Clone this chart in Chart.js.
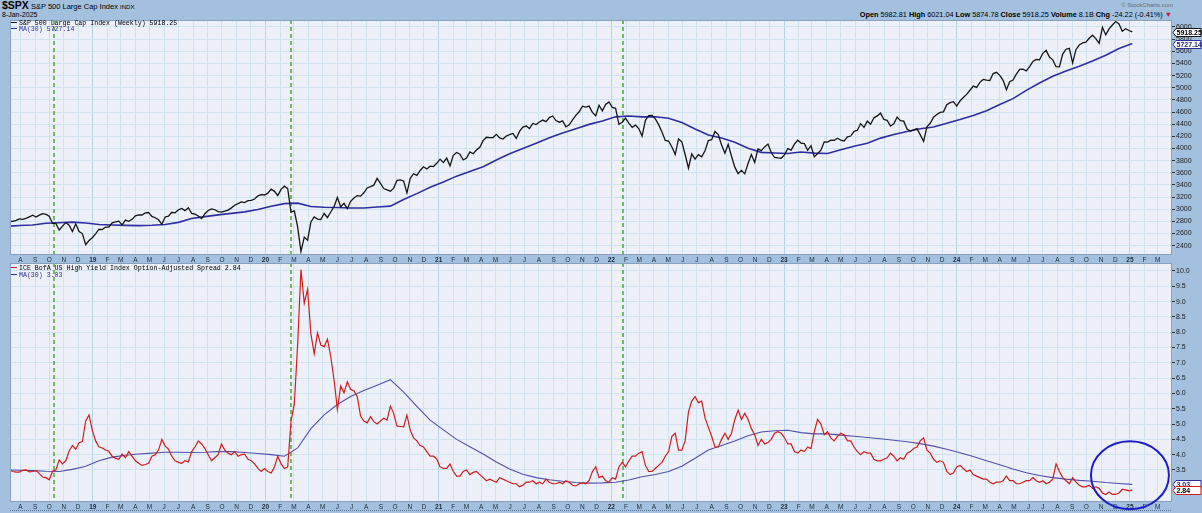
<!DOCTYPE html>
<html lang="en">
<head>
<meta charset="utf-8">
<title>$SPX and ICE BofA US High Yield OAS</title>
<script src="https://cdn.jsdelivr.net/npm/chart.js@4.4.1/dist/chart.umd.min.js"></script>
<style>
  html, body { margin: 0; padding: 0; background: #a3c1df; }
  #wrap { position: relative; width: 1202px; height: 513px; overflow: hidden; background: #a3c1df;
          font-family: "Liberation Sans", Arial, sans-serif; color: #000; }
  canvas { position: absolute; left: 0; }
  #spxChart { top: 20px; }
  #hyChart { top: 263px; }
  .txt { position: absolute; white-space: nowrap; }
  .leg { position: absolute; white-space: nowrap; font-family: "Liberation Mono", "DejaVu Sans Mono", monospace;
         font-size: 6.6px; line-height: 7px; }
  .leg i { display: inline-block; width: 6px; border-top: 1.5px solid; vertical-align: middle; margin: 0 2px 1px 0; }
</style>
</head>
<body>
<div id="wrap">
  <canvas id="spxChart" width="1202" height="243"></canvas>
  <canvas id="hyChart" width="1202" height="250"></canvas>

  <div class="txt" style="left:2px; top:0px; font-size:7.5px; line-height:11px;"><b style="font-size:10.5px;">$SPX</b> S&amp;P 500 Large Cap Index <span style="font-size:6px;">INDX</span></div>
  <div class="txt" style="left:2px; top:11px; font-size:7px; line-height:8px;">8-Jan-2025</div>
  <div class="txt" style="right:29px; top:2px; font-size:6px; line-height:7px; color:#6a6a6a;">© StockCharts.com</div>
  <div class="txt" style="right:30px; top:11px; font-size:7.3px; line-height:8px;"><b>Open</b> 5982.81 <b>High</b> 6021.04 <b>Low</b> 5874.78 <b>Close</b> 5918.25 <b>Volume</b> 8.1B <b>Chg</b> -24.22 (-0.41%) <span style="color:#c0143c;">▼</span></div>

  <div class="leg" style="left:11px; top:20px;"><i style="color:#111;"></i>S&amp;P 500 Large Cap Index (Weekly) 5918.25</div>
  <div class="leg" style="left:11px; top:26px; color:#2e2ea0;"><i></i>MA(30) 5727.14</div>
  <div class="leg" style="left:11px; top:265px;"><i style="color:#d01c1c;"></i>ICE BofA US High Yield Index Option-Adjusted Spread 2.84</div>
  <div class="leg" style="left:11px; top:272px; color:#2e2ea0;"><i></i>MA(30) 3.03</div>
</div>

<script>
// weekly closes, one list per year (first bar = week of 2 Jul 2018)
const spx2018 = [2759,2801,2802,2818,2840,2833,2850,2875,2901,2871,2904,2929,2914,2885,2767,2768,2658,2723,2781,2736,2633,2760,2633,2600,2417,2486];
const spx2019 = [2532,2596,2671,2665,2707,2708,2776,2793,2804,2743,2822,2801,2834,2893,2907,2905,2940,2946,2881,2860,2826,2752,2873,2887,2950,2942,2990,3014,2977,3026,2932,2919,2889,2847,2926,2979,3007,2992,2962,2952,2970,2986,3023,3067,3093,3120,3110,3141,3146,3169,3221,3240];
const spx2020 = [3235,3265,3330,3295,3226,3328,3380,3338,2954,2972,2711,2305,2541,2489,2790,2875,2837,2831,2930,2864,2955,3044,3194,3041,3098,3009,3130,3185,3225,3216,3271,3351,3373,3397,3508,3427,3341,3319,3298,3348,3477,3484,3465,3270,3510,3585,3558,3638,3699,3663,3709,3703];
const spx2021 = [3756,3825,3768,3841,3714,3887,3934,3907,3811,3842,3943,3913,3975,4020,4129,4185,4180,4181,4233,4174,4156,4204,4230,4247,4166,4281,4352,4370,4327,4412,4395,4437,4468,4442,4509,4535,4459,4433,4455,4357,4391,4471,4545,4605,4697,4682,4698,4595,4538,4712,4620,4726,4766];
const spx2022 = [4677,4662,4398,4432,4500,4418,4349,4385,4329,4204,4463,4543,4546,4488,4393,4272,4132,4123,4024,3901,4158,4109,3901,3675,3912,3825,3899,3863,3962,4130,4145,4280,4228,4058,3924,4067,3873,3693,3586,3640,3583,3752,3901,3771,3993,3965,4026,4072,3934,3852,3845,3840];
const spx2023 = [3895,3999,3973,4071,4136,4090,4079,3970,4046,3862,3917,3971,4109,4105,4138,4133,4169,4136,4124,4192,4205,4282,4299,4410,4348,4450,4399,4505,4536,4582,4478,4464,4370,4406,4516,4457,4450,4320,4288,4308,4327,4224,4117,4358,4415,4514,4559,4595,4604,4719,4755,4770];
const spx2024 = [4697,4784,4840,4891,4959,5027,5006,5089,5137,5124,5117,5234,5254,5204,5123,4967,5100,5128,5223,5303,5305,5278,5347,5432,5465,5460,5567,5615,5505,5459,5347,5344,5554,5634,5648,5408,5626,5703,5738,5751,5815,5865,5808,5729,5995,5870,5969,6032,6090,6051,5931,5971];
const spx2025 = [5942,5918.25];

const hy2018 = [3.55,3.50,3.45,3.43,3.43,3.49,3.50,3.44,3.45,3.48,3.38,3.27,3.25,3.18,3.46,3.50,3.83,3.70,3.80,4.12,4.30,4.18,4.39,4.43,5.10,5.30];
const hy2019 = [4.80,4.45,4.26,4.22,4.15,4.11,3.95,3.88,3.85,4.02,3.90,4.10,3.95,3.80,3.72,3.65,3.68,3.72,3.95,4.00,4.15,4.50,4.28,4.18,3.95,3.80,3.75,3.72,3.80,3.76,4.10,4.25,4.45,4.35,4.20,4.00,3.80,3.90,4.00,4.35,4.15,4.05,4.00,4.10,3.95,4.00,4.02,3.85,3.80,3.70,3.55,3.45];
const hy2020 = [3.55,3.45,3.40,3.60,3.95,3.70,3.55,3.60,5.10,5.65,7.60,10.05,8.95,9.40,7.95,7.30,7.98,7.58,7.53,7.77,7.20,6.44,5.48,6.24,6.02,6.38,6.13,6.09,5.89,5.26,5.10,5.04,5.24,5.08,5.00,5.10,5.19,5.13,5.59,5.35,4.93,4.92,4.91,5.29,4.80,4.55,4.45,4.30,4.25,4.10,3.95,3.95];
const hy2021 = [3.86,3.60,3.55,3.55,3.70,3.45,3.30,3.30,3.45,3.50,3.35,3.42,3.45,3.35,3.25,3.15,3.20,3.15,3.10,3.25,3.20,3.15,3.10,3.05,3.05,2.95,3.00,3.10,3.10,3.15,3.05,3.10,3.05,3.20,3.10,3.05,3.05,3.10,3.05,3.15,3.10,3.00,2.98,3.05,3.08,3.05,3.15,3.45,3.60,3.25,3.30,3.15,3.10];
const hy2022 = [3.25,3.20,3.60,3.75,3.60,3.80,3.95,3.95,4.05,4.10,3.65,3.45,3.45,3.55,3.65,3.75,3.95,4.10,4.60,4.70,4.15,4.15,4.45,5.40,5.75,5.90,5.70,5.75,5.20,4.90,4.60,4.25,4.25,4.50,4.70,4.50,4.70,5.15,5.45,5.15,5.35,5.15,4.85,4.65,4.30,4.50,4.35,4.40,4.50,4.70,4.75,4.70];
const hy2023 = [4.55,4.35,4.35,4.10,4.05,4.15,4.10,4.25,4.20,4.75,5.15,5.00,4.65,4.75,4.55,4.45,4.60,4.70,4.65,4.45,4.45,4.25,4.10,4.00,4.10,4.05,4.05,3.85,3.80,3.80,3.85,3.90,4.05,3.95,3.80,3.90,3.85,4.05,4.10,4.20,4.25,4.45,4.55,4.15,4.05,3.85,3.75,3.80,3.75,3.45,3.35,3.40];
const hy2024 = [3.60,3.65,3.55,3.45,3.50,3.35,3.30,3.25,3.20,3.20,3.10,3.05,3.10,3.10,3.15,3.30,3.15,3.15,3.05,3.05,3.10,3.15,3.15,3.25,3.15,3.10,3.15,3.05,3.10,3.20,3.70,3.45,3.25,3.15,3.05,3.25,3.10,3.00,2.95,2.95,3.00,2.90,2.95,2.90,2.75,2.70,2.78,2.70,2.70,2.75,2.87,2.85];
const hy2025 = [2.82,2.84];

const MA_STEP = 4;
const spxMa30 = [2717,2733,2741,2769,2779,2788,2774,2749,2741,2735,2731,2737,2750,2784,2847,2879,2907,2932,2957,2995,
  3049,3093,3100,3045,3032,3028,3020,3021,3038,3051,3159,3257,3361,3450,3545,3621,3700,3811,3912,3998,
  4087,4177,4255,4325,4397,4454,4521,4535,4520,4523,4499,4428,4321,4222,4174,4104,4005,3936,3926,3917,
  3943,3924,3918,3978,4038,4086,4171,4230,4279,4324,4355,4417,4477,4544,4621,4723,4821,4957,5078,5188,
  5277,5354,5439,5534,5647,5727.14];
const hyMa30 = [3.50,3.49,3.48,3.46,3.45,3.52,3.62,3.80,3.92,3.98,4.02,4.05,4.08,4.08,4.07,4.08,
  4.10,4.10,4.07,4.04,4.00,3.95,4.22,4.85,5.30,5.64,5.90,6.10,6.27,6.45,6.04,5.58,
  5.13,4.81,4.50,4.26,4.02,3.76,3.53,3.36,3.25,3.18,3.13,3.09,3.07,3.08,3.10,3.17,
  3.28,3.35,3.45,3.62,3.88,4.15,4.30,4.45,4.62,4.74,4.78,4.80,4.72,4.68,4.68,4.64,
  4.60,4.56,4.52,4.47,4.42,4.36,4.28,4.18,4.06,3.94,3.80,3.67,3.53,3.41,3.32,3.25,
  3.20,3.16,3.13,3.09,3.06,3.03];

const spxTicks = [2400,2600,2800,3000,3200,3400,3600,3800,4000,4200,4400,4600,4800,5000,5200,5400,5600,5800,6000];
const hyTicks = [3.5,4.0,4.5,5.0,5.5,6.0,6.5,7.0,7.5,8.0,8.5,9.0,9.5,10.0];
const monthLetters = ['J','F','M','A','M','J','J','A','S','O','N','D'];
const signalDates = ['2018-10-11','2020-02-24','2022-01-25'];

const spxWeekly = [].concat(spx2018, spx2019, spx2020, spx2021, spx2022, spx2023, spx2024, spx2025);
const hyWeekly = [].concat(hy2018, hy2019, hy2020, hy2021, hy2022, hy2023, hy2024, hy2025);

// x axis is measured in weeks from the first bar
const FIRST_WEEK = Date.UTC(2018, 6, 2);
const MS_WEEK = 7 * 86400000;
const X_MIN = 1.15, X_MAX = 352.0;
const FONT = '"Liberation Sans", Arial, sans-serif';

function weekOf(t) { return (t - FIRST_WEEK) / MS_WEEK; }

const monthTicks = [];
for (let y = 2018; y <= 2025; y++) {
  for (let m = 0; m < 12; m++) {
    const w = weekOf(Date.UTC(y, m, 1));
    if (w < X_MIN || w > X_MAX) continue;
    monthTicks.push({ value: w, lab: m === 0 ? String(y).slice(2) : monthLetters[m], year: m === 0 });
  }
}
const signalWeeks = signalDates.map(d => weekOf(Date.parse(d)));

const weekly = arr => arr.map((v, i) => ({ x: i, y: v }));
const sampled = arr => arr.map((v, i) => ({ x: i * MA_STEP, y: v }));

function drawTag(ctx, x0, y, text, border, color) {
  const w = 28, h = 8;
  ctx.beginPath();
  ctx.moveTo(x0, y);
  ctx.lineTo(x0 + 3, y - h / 2);
  ctx.lineTo(x0 + w, y - h / 2);
  ctx.lineTo(x0 + w, y + h / 2);
  ctx.lineTo(x0 + 3, y + h / 2);
  ctx.closePath();
  ctx.fillStyle = '#fff';
  ctx.fill();
  ctx.strokeStyle = border;
  ctx.lineWidth = 1;
  ctx.stroke();
  ctx.font = 'bold 7px ' + FONT;
  ctx.fillStyle = color;
  ctx.textBaseline = 'middle';
  ctx.textAlign = 'left';
  ctx.fillText(text, x0 + 3.5, y + 0.5);
}

const panelPlugin = {
  id: 'panel',
  beforeDraw(chart) {
    const { ctx, chartArea: a } = chart;
    ctx.save();
    ctx.fillStyle = '#eef0f9';
    ctx.fillRect(a.left, a.top, a.right - a.left, a.bottom - a.top);
    ctx.restore();
  },
  beforeDatasetsDraw(chart) {
    // green signal lines
    const { ctx, chartArea: a, scales } = chart;
    ctx.save();
    ctx.strokeStyle = '#4aa82c';
    ctx.lineWidth = 1.5;
    ctx.setLineDash([4, 3]);
    signalWeeks.forEach(w => {
      const px = Math.round(scales.x.getPixelForValue(w));
      ctx.beginPath();
      ctx.moveTo(px, a.top);
      ctx.lineTo(px, a.bottom);
      ctx.stroke();
    });
    ctx.restore();
  },
  afterDraw(chart, args, opts) {
    const { ctx, chartArea: a, scales } = chart;
    ctx.save();
    ctx.strokeStyle = '#86a0bd';
    ctx.lineWidth = 1;
    ctx.strokeRect(a.left + 0.5, a.top + 0.5, a.right - a.left - 1, a.bottom - a.top - 1);
    ctx.setLineDash([1, 1]);
    ctx.strokeStyle = '#5c7896';
    ctx.beginPath();
    ctx.moveTo(a.left, a.bottom + 8.5);
    ctx.lineTo(a.right, a.bottom + 8.5);
    ctx.stroke();
    ctx.setLineDash([]);

    (opts.tags || []).forEach(t => {
      drawTag(ctx, a.right + 1, Math.round(scales.y.getPixelForValue(t.value)) + 0.5, t.text, t.border, t.color);
    });

    if (opts.circle) {
      const c = opts.circle;
      ctx.strokeStyle = '#1c1cc8';
      ctx.lineWidth = 2;
      ctx.beginPath();
      ctx.ellipse(scales.x.getPixelForValue(c.week), scales.y.getPixelForValue(c.value), c.rx, c.ry, 0, 0, Math.PI * 2);
      ctx.stroke();
    }
    ctx.restore();
  }
};

function monthAxis() {
  return {
    type: 'linear',
    min: X_MIN,
    max: X_MAX,
    afterBuildTicks: axis => { axis.ticks = monthTicks.map(t => ({ value: t.value, lab: t.lab, year: t.year })); },
    afterFit: axis => { axis.height = 8; axis.paddingLeft = 0; axis.paddingRight = 0; },
    border: { display: false },
    grid: {
      color: c => (c.tick && c.tick.year ? '#b6d3e6' : '#d0e4ef'),
      lineWidth: 1,
      drawTicks: false
    },
    ticks: {
      autoSkip: false,
      maxRotation: 0,
      padding: 1,
      color: '#1d2b3a',
      font: c => ({ family: FONT, size: 6.5, weight: c.tick && c.tick.year ? 'bold' : 'normal' }),
      callback: (v, i, ticks) => ticks[i].lab
    }
  };
}

function valueAxis(min, max, list, fmt) {
  return {
    type: 'linear',
    position: 'right',
    min: min,
    max: max,
    afterBuildTicks: axis => { axis.ticks = list.map(v => ({ value: v })); },
    afterFit: axis => { axis.width = 30; axis.paddingTop = 0; axis.paddingBottom = 0; },
    border: { display: false },
    grid: { color: '#d0e4ef', lineWidth: 1, drawTicks: true, tickLength: 3, tickColor: '#333' },
    ticks: { padding: 1, color: '#1a1a1a', font: { family: FONT, size: 7 }, callback: fmt }
  };
}

new Chart(document.getElementById('spxChart'), {
  type: 'line',
  data: {
    datasets: [
      { label: 'S&P 500 Large Cap Index (Weekly)', data: weekly(spxWeekly), borderColor: '#151515', borderWidth: 1.3, pointRadius: 0 },
      { label: 'MA(30)', data: sampled(spxMa30), borderColor: '#2e2ea0', borderWidth: 1.6, pointRadius: 0 }
    ]
  },
  options: {
    responsive: false,
    animation: false,
    events: [],
    layout: { padding: { left: 10, right: 0, top: 0, bottom: 0 } },
    plugins: {
      legend: { display: false },
      tooltip: { enabled: false },
      panel: {
        tags: [
          { value: spxWeekly[spxWeekly.length - 1], text: '5918.25', border: '#111', color: '#000' },
          { value: spxMa30[spxMa30.length - 1], text: '5727.14', border: '#2e2ea0', color: '#1e1e80' }
        ]
      }
    },
    scales: {
      x: monthAxis(),
      y: valueAxis(2247, 6115, spxTicks, v => String(v))
    }
  },
  plugins: [panelPlugin]
});

new Chart(document.getElementById('hyChart'), {
  type: 'line',
  data: {
    datasets: [
      { label: 'ICE BofA US High Yield Index Option-Adjusted Spread', data: weekly(hyWeekly), borderColor: '#d01c1c', borderWidth: 1.2, pointRadius: 0 },
      { label: 'MA(30)', data: sampled(hyMa30), borderColor: '#5050a8', borderWidth: 1.1, pointRadius: 0 }
    ]
  },
  options: {
    responsive: false,
    animation: false,
    events: [],
    layout: { padding: { left: 10, right: 0, top: 0, bottom: 3 } },
    plugins: {
      legend: { display: false },
      tooltip: { enabled: false },
      panel: {
        tags: [
          { value: hyMa30[hyMa30.length - 1], text: '3.03', border: '#2e2ea0', color: '#1e1e80' },
          { value: hyWeekly[hyWeekly.length - 1], text: '2.84', border: '#d01c1c', color: '#000' }
        ],
        circle: { week: 339.3, value: 3.33, rx: 39, ry: 34 }
      }
    },
    scales: {
      x: monthAxis(),
      y: valueAxis(2.454, 10.261, hyTicks, v => v.toFixed(1))
    }
  },
  plugins: [panelPlugin]
});
</script>
</body>
</html>
